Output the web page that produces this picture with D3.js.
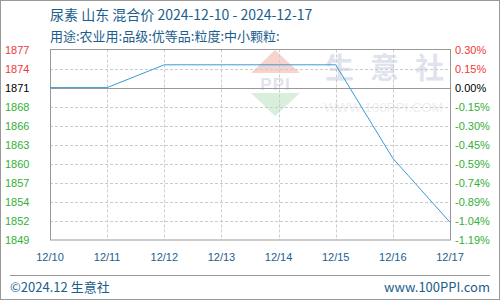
<!DOCTYPE html>
<html><head><meta charset="utf-8">
<script src="https://cdn.jsdelivr.net/npm/d3@7"></script>
<style>html,body{margin:0;padding:0;background:#fff;}svg{display:block;}</style>
</head><body>
<script>
const dates = ["12/10","12/11","12/12","12/13","12/14","12/15","12/16","12/17"];
const prices = [1871, 1871, 1874.33, 1874.33, 1874.33, 1874.33, 1860.67, 1851.33];
const leftTicks = ["1877","1874","1871","1868","1866","1863","1860","1857","1854","1852","1849"];
const rightTicks = ["0.30%","0.15%","0.00%","-0.15%","-0.30%","-0.45%","-0.59%","-0.74%","-0.89%","-1.04%","-1.19%"];
const baseValue = 1871;
const title = "尿素 山东 混合价 2024-12-10 - 2024-12-17";
const subtitle = "用途:农业用:品级:优等品:粒度:中小颗粒:";

const W = 500, H = 300;
const m = {left: 50, right: 450, top: 49.5, bottom: 240};
const step = baseValue * 0.001487;
const yMax = baseValue + 2 * step, yMin = baseValue - 8 * step;
const tickVals = d3.range(11).map(i => yMax - i * step);

const svg = d3.select("body").append("svg").attr("width", W).attr("height", H);
svg.append("rect").attr("x", 0.5).attr("y", 0.5).attr("width", W - 1).attr("height", H - 1)
  .attr("fill", "#fff").attr("stroke", "#999");

const x = d3.scalePoint().domain(dates).range([m.left, m.right]);
const y = d3.scaleLinear().domain([yMin, yMax]).range([m.bottom, m.top]);

// watermark
const wm = svg.append("g");
wm.append("path").attr("d", "M275,50 L300,73 L251,73 Z").attr("fill", "#f6d3cc");
wm.append("text").attr("x", 275.5).attr("y", 90).attr("text-anchor", "middle")
  .attr("font-family", "Liberation Sans, sans-serif").attr("font-weight", "bold")
  .attr("font-size", 17).attr("fill", "#dfe4ee").attr("letter-spacing", 1).text("PPI");
wm.append("path").attr("d", "M251,93 L300,93 L275,116 Z").attr("fill", "#d8efdc");
const wmt = wm.append("text").attr("x", 325).attr("y", 79)
  .attr("font-family", "Noto Sans CJK SC").attr("font-weight", "bold")
  .attr("font-size", 29).attr("fill", "#dfe3ee");
["生","意","社"].forEach((c, i) => wmt.append("tspan").attr("dx", i ? 16 : 0).text(c));
wm.append("text").attr("x", 324).attr("y", 112)
  .attr("font-family", "Liberation Sans, sans-serif")
  .attr("font-size", 13.3).attr("fill", "#eeeeee").text("WWW.100PPI.COM");

// grid
const grid = svg.append("g");
tickVals.forEach((v, i) => {
  if (i === 0 || i === 10) return;
  grid.append("line").attr("x1", m.left).attr("x2", m.right)
    .attr("y1", Math.round(y(v)) + 0.5).attr("y2", Math.round(y(v)) + 0.5)
    .attr("stroke", i === 2 ? "#999" : "#ccc")
    .attr("stroke-dasharray", i === 2 ? null : "3,2");
});
dates.forEach((d, i) => {
  if (i === 0 || i === dates.length - 1) return;
  grid.append("line").attr("y1", m.top).attr("y2", m.bottom)
    .attr("x1", Math.round(x(d)) + 0.5).attr("x2", Math.round(x(d)) + 0.5)
    .attr("stroke", "#ccc").attr("stroke-dasharray", "3,2");
});
svg.append("rect").attr("x", m.left + 0.5).attr("y", m.top).attr("width", m.right - m.left)
  .attr("height", m.bottom - m.top).attr("fill", "none").attr("stroke", "#999");

// line
svg.append("path").datum(prices)
  .attr("d", d3.line().x((d, i) => x(dates[i])).y(d => y(d)))
  .attr("fill", "none").attr("stroke", "#3a9ad9").attr("stroke-width", 1);

// axes labels
const colorFor = i => i < 2 ? "#f03838" : (i === 2 ? "#000" : "#33b033");
tickVals.forEach((v, i) => {
  svg.append("text").attr("x", 5).attr("y", y(v) + 4)
    .attr("font-family", "Liberation Sans, sans-serif").attr("font-size", 11)
    .attr("fill", colorFor(i)).text(leftTicks[i]);
  svg.append("text").attr("x", 455).attr("y", y(v) + 4)
    .attr("font-family", "Liberation Sans, sans-serif").attr("font-size", 11)
    .attr("fill", colorFor(i)).text(rightTicks[i]);
});
dates.forEach(d => {
  svg.append("text").attr("x", x(d)).attr("y", 261).attr("text-anchor", "middle")
    .attr("font-family", "Liberation Sans, sans-serif").attr("font-size", 11)
    .attr("fill", "#1b5e8e").text(d);
});

// titles
svg.append("text").attr("x", 50).attr("y", 20).attr("font-family", "Noto Sans CJK SC")
  .attr("font-size", 14).attr("fill", "#1b5e8e").text(title);
svg.append("text").attr("x", 50).attr("y", 41).attr("font-family", "Noto Sans CJK SC")
  .attr("font-size", 13).attr("fill", "#1b5e8e").text(subtitle);

// footer
svg.append("line").attr("x1", 10).attr("x2", 490).attr("y1", 275.5).attr("y2", 275.5).attr("stroke", "#999");
svg.append("text").attr("x", 10).attr("y", 292).attr("font-family", "Noto Sans CJK SC")
  .attr("font-size", 13).attr("fill", "#1b5e8e").text("©2024.12 生意社");
svg.append("text").attr("x", 490).attr("y", 292).attr("text-anchor", "end").attr("font-family", "Noto Sans CJK SC")
  .attr("font-size", 13).attr("fill", "#1b5e8e").text("www.100PPI.com");
</script>
</body></html>
